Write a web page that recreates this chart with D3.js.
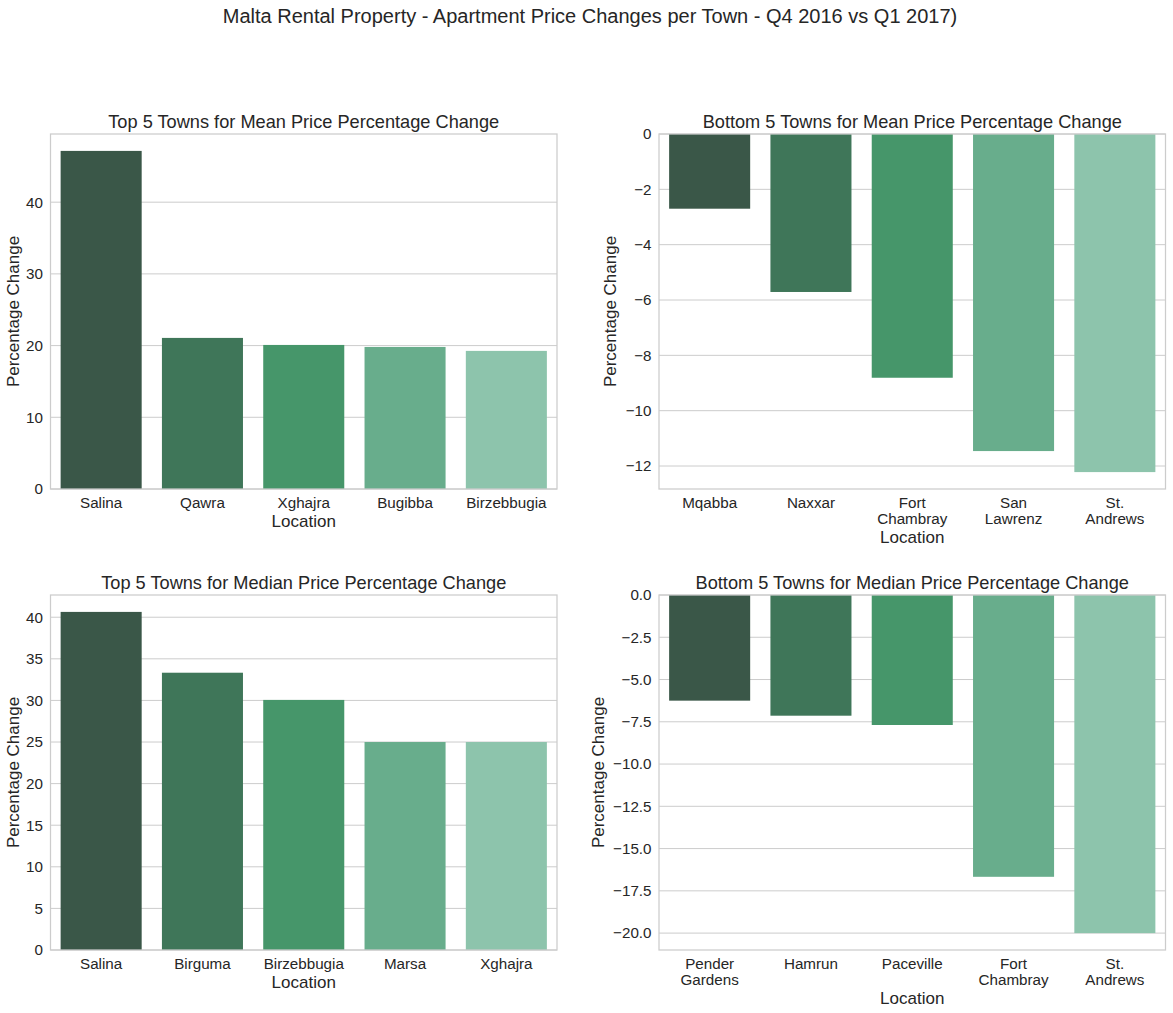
<!DOCTYPE html>
<html>
<head>
<meta charset="utf-8">
<script src="https://cdn.jsdelivr.net/npm/d3@7"></script>
<style>
  body { margin: 0; background: #ffffff; }
  svg { display: block; }
  text { font-family: "Liberation Sans", Arial, sans-serif; fill: #262626; }
</style>
</head>
<body>
<svg id="chart" width="1173" height="1013"></svg>
<script>
// ---- Data ----
const suptitle = "Malta Rental Property - Apartment Price Changes per Town - Q4 2016 vs Q1 2017)";

const topMeanTowns = ["Salina", "Qawra", "Xghajra", "Bugibba", "Birzebbugia"];
const topMeanValues = [47.15, 21.07, 20.09, 19.81, 19.26];
const topMeanTicks = [0, 10, 20, 30, 40];

const bottomMeanTowns = ["Mqabba", "Naxxar", "Fort\nChambray", "San\nLawrenz", "St.\nAndrews"];
const bottomMeanValues = [-2.70, -5.71, -8.81, -11.46, -12.22];
const bottomMeanTicks = [0, -2, -4, -6, -8, -10, -12];

const topMedianTowns = ["Salina", "Birguma", "Birzebbugia", "Marsa", "Xghajra"];
const topMedianValues = [40.64, 33.33, 30.06, 25.0, 25.0];
const topMedianTicks = [0, 5, 10, 15, 20, 25, 30, 35, 40];

const bottomMedianTowns = ["Pender\nGardens", "Hamrun", "Paceville", "Fort\nChambray", "St.\nAndrews"];
const bottomMedianValues = [-6.25, -7.14, -7.69, -16.67, -20.0];
const bottomMedianTicks = [0, -2.5, -5, -7.5, -10, -12.5, -15, -17.5, -20];

const palette = ["#3a5748", "#3f7659", "#46966a", "#68ad8c", "#8dc4ac"];

// ---- Drawing ----
const svg = d3.select("#chart");
svg.append("rect").attr("width", 1173).attr("height", 1013).attr("fill", "#ffffff");

svg.append("text")
  .attr("x", 590).attr("y", 22.5)
  .attr("text-anchor", "middle")
  .style("font-size", "20px")
  .text(suptitle);

function drawPanel(cfg) {
  const g = svg.append("g").attr("transform", `translate(${cfg.left},${cfg.top})`);
  const w = cfg.width, h = cfg.height;
  const minV = d3.min(cfg.values), maxV = d3.max(cfg.values);
  const domain = maxV > 0 ? [0, maxV * 1.05] : [minV * 1.05, 0];

  const x = d3.scaleBand().domain(cfg.cats).range([0, w])
    .paddingInner(0.2).paddingOuter(0.1);
  const y = d3.scaleLinear().domain(domain).range([h, 0]);

  // grid
  g.append("g").selectAll("line").data(cfg.ticks).join("line")
    .attr("x1", 0).attr("x2", w)
    .attr("y1", d => y(d)).attr("y2", d => y(d))
    .attr("stroke", "#cccccc").attr("stroke-width", 1);

  // bars
  g.append("g").selectAll("rect").data(cfg.values).join("rect")
    .attr("x", (d, i) => x(cfg.cats[i]))
    .attr("width", x.bandwidth())
    .attr("y", d => y(Math.max(0, d)))
    .attr("height", d => Math.abs(y(d) - y(0)))
    .attr("fill", (d, i) => palette[i]);

  // frame
  g.append("rect").attr("x", 0).attr("y", 0).attr("width", w).attr("height", h)
    .attr("fill", "none").attr("stroke", "#cccccc").attr("stroke-width", 1.25);

  // y axis via d3 axis
  const yAxis = d3.axisLeft(y).tickValues(cfg.ticks).tickSize(0).tickPadding(7.5)
    .tickFormat(cfg.fmt);
  const ya = g.append("g").call(yAxis);
  ya.select(".domain").remove();
  ya.selectAll("text").style("font-size", "15.2px").attr("fill", "#262626")
    .style("font-family", '"Liberation Sans", Arial, sans-serif');

  // x axis via d3 axis, multi-line labels
  const xAxis = d3.axisBottom(x).tickSize(0).tickFormat("");
  const xa = g.append("g").attr("transform", `translate(0,${h})`).call(xAxis);
  xa.select(".domain").remove();
  xa.selectAll(".tick").each(function(d) {
    const t = d3.select(this).append("text")
      .attr("text-anchor", "middle")
      .attr("fill", "#262626")
      .style("font-size", "15.2px")
      .style("font-family", '"Liberation Sans", Arial, sans-serif');
    d.split("\n").forEach((line, i) => {
      t.append("tspan").attr("x", 0).attr("y", 18.5 + i * 16.5).text(line);
    });
  });

  // x label
  const multi = cfg.cats.some(c => c.includes("\n"));
  g.append("text")
    .attr("x", w / 2).attr("y", h + (multi ? 54 : 37.5))
    .attr("text-anchor", "middle")
    .style("font-size", "17px")
    .text("Location");

  // y label
  g.append("text")
    .attr("transform", `translate(${cfg.ylabelX},${h / 2}) rotate(-90)`)
    .attr("text-anchor", "middle")
    .style("font-size", "17px")
    .text("Percentage Change");

  // title
  g.append("text")
    .attr("x", w / 2).attr("y", -6)
    .attr("text-anchor", "middle")
    .style("font-size", "18.2px")
    .text(cfg.title);
}

const fmtInt = d3.format("d");
const fmtOne = d3.format(".1f");

drawPanel({
  cats: topMeanTowns, values: topMeanValues, ticks: topMeanTicks, fmt: fmtInt,
  left: 50.5, top: 134, width: 506.5, height: 355,
  title: "Top 5 Towns for Mean Price Percentage Change", ylabelX: -32
});
drawPanel({
  cats: bottomMeanTowns, values: bottomMeanValues, ticks: bottomMeanTicks, fmt: fmtInt,
  left: 659, top: 134, width: 506.5, height: 355,
  title: "Bottom 5 Towns for Mean Price Percentage Change", ylabelX: -43
});
drawPanel({
  cats: topMedianTowns, values: topMedianValues, ticks: topMedianTicks, fmt: fmtInt,
  left: 50.5, top: 595, width: 506.5, height: 355,
  title: "Top 5 Towns for Median Price Percentage Change", ylabelX: -32
});
drawPanel({
  cats: bottomMedianTowns, values: bottomMedianValues, ticks: bottomMedianTicks, fmt: fmtOne,
  left: 659, top: 595, width: 506.5, height: 355,
  title: "Bottom 5 Towns for Median Price Percentage Change", ylabelX: -55
});
</script>
</body>
</html>
